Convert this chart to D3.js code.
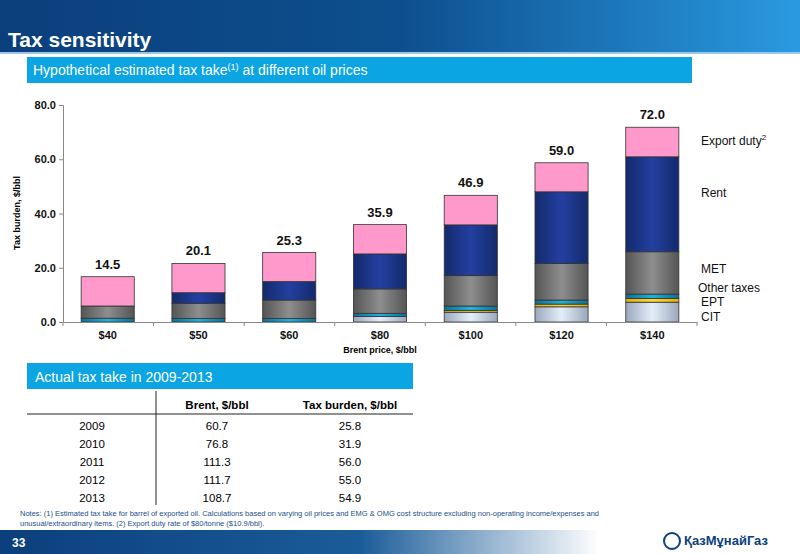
<!DOCTYPE html>
<html><head><meta charset="utf-8">
<script src="https://cdn.jsdelivr.net/npm/d3@7"></script>
<style>body{margin:0;background:#fff;font-family:"Liberation Sans",Arial,sans-serif}</style>
</head><body>
<svg id="c" width="800" height="554"></svg>
<script>
const prices = ["$40","$50","$60","$80","$100","$120","$140"];
const totals = [14.5, 20.1, 25.3, 35.9, 46.9, 59.0, 72.0];
const cit = [0, 0, 0, 2.0, 3.6, 5.6, 7.3];
const ept = [0, 0, 0, 0, 0.6, 1.0, 1.4];
const otherTaxes = [1.4, 1.3, 1.3, 1.2, 1.7, 1.5, 1.6];
const met = [4.5, 5.6, 6.8, 9.0, 11.2, 13.5, 15.6];
const rent = [0, 3.9, 6.8, 12.9, 18.7, 26.4, 35.0];
const exportDuty = [10.8, 10.8, 10.7, 10.8, 10.9, 10.7, 10.9];
const yTicks = [0, 20, 40, 60, 80];
const years = ["2009","2010","2011","2012","2013"];
const brentActual = ["60.7","76.8","111.3","111.7","108.7"];
const taxActual = ["25.8","31.9","56.0","55.0","54.9"];

const svg = d3.select("#c");
const defs = svg.append("defs");

// header band
const hg = defs.append("linearGradient").attr("id","hdr");
hg.append("stop").attr("offset","0").attr("stop-color","#0b3f7c");
hg.append("stop").attr("offset","0.5").attr("stop-color","#0d4f8e");
hg.append("stop").attr("offset","1").attr("stop-color","#2a9ae0");
svg.append("rect").attr("width",800).attr("height",52).attr("fill","url(#hdr)");
svg.append("rect").attr("y",52).attr("width",800).attr("height",2).attr("fill","#9cc6e8");
svg.append("text").attr("x",8).attr("y",47).attr("fill","#fff")
  .attr("font-size",21).attr("font-weight","bold").text("Tax sensitivity");

// footer band
const fg = defs.append("linearGradient").attr("id","ftr");
fg.append("stop").attr("offset","0").attr("stop-color","#0b3f7c");
fg.append("stop").attr("offset","0.45").attr("stop-color","#1a5c99");
fg.append("stop").attr("offset","0.75").attr("stop-color","#ffffff");
svg.append("rect").attr("y",530).attr("width",800).attr("height",24).attr("fill","url(#ftr)");
svg.append("text").attr("x",12).attr("y",547).attr("fill","#fff").attr("font-size",12).attr("font-weight","bold").text("33");
svg.append("circle").attr("cx",672).attr("cy",541).attr("r",8).attr("fill","none").attr("stroke","#0b3f7c").attr("stroke-width",2);
svg.append("text").attr("x",684).attr("y",545).attr("fill","#0b3f7c").attr("font-size",13).attr("font-weight","bold").text("ҚазМұнайГаз");

// section boxes
svg.append("rect").attr("x",27).attr("y",57).attr("width",665).attr("height",26).attr("fill","#0aa5e2");
const st = svg.append("text").attr("x",33).attr("y",75).attr("fill","#fff").attr("font-size",14);
st.append("tspan").text("Hypothetical estimated tax take");
st.append("tspan").attr("font-size",9).attr("dy",-5).text("(1)");
st.append("tspan").attr("dy",5).text(" at different oil prices");

svg.append("rect").attr("x",27).attr("y",363).attr("width",386).attr("height",26).attr("fill","#0aa5e2");
svg.append("text").attr("x",35).attr("y",382).attr("fill","#fff").attr("font-size",14).text("Actual tax take in 2009-2013");

// chart
const x = d3.scaleBand().domain(prices).range([63,697]).paddingInner(0.415).paddingOuter(0.2);
const y = d3.scaleLinear().domain([0,80]).range([322,105]);

const keys = ["cit","ept","other","met","rent","exp"];
const rows = prices.map((p,i)=>({p, cit:cit[i], ept:ept[i], other:otherTaxes[i], met:met[i], rent:rent[i], exp:exportDuty[i]}));
const stack = d3.stack().keys(keys)(rows);

function grad(id, c0, c1, c2){
  const g = defs.append("linearGradient").attr("id",id);
  g.append("stop").attr("offset","0").attr("stop-color",c0);
  g.append("stop").attr("offset","0.5").attr("stop-color",c1);
  g.append("stop").attr("offset","1").attr("stop-color",c2);
  return `url(#${id})`;
}
const fills = {
  cit: grad("gcit","#9aa8bc","#e4eefa","#9aa8bc"),
  ept: grad("gept","#e0b000","#ffd83a","#e0b000"),
  other: grad("goth","#0c6f92","#22b2dc","#0c6f92"),
  met: grad("gmet","#555","#8e8e8e","#555"),
  rent: grad("grent","#142a6c","#2340a0","#142a6c"),
  exp: "#ff99cc"
};

const g = svg.append("g");
g.selectAll("g.s").data(stack).join("g").attr("fill",d=>fills[d.key])
  .selectAll("rect").data(d=>d).join("rect")
  .attr("x",d=>x(d.data.p)).attr("width",x.bandwidth())
  .attr("y",d=>y(d[1])).attr("height",d=>Math.max(0,y(d[0])-y(d[1])))
  .attr("stroke",d=>d[1]-d[0]>0?"#333":"none").attr("stroke-width",0.8);

const tops = stack[stack.length-1];
g.selectAll("text.t").data(tops).join("text")
  .attr("x",d=>x(d.data.p)+x.bandwidth()/2).attr("y",(d)=>y(d[1])-8)
  .attr("text-anchor","middle").attr("font-size",13).attr("font-weight","bold").attr("fill","#111")
  .text((d,i)=>totals[i].toFixed(1));

const ya = svg.append("g").attr("transform","translate(63,0)")
  .call(d3.axisLeft(y).tickValues(yTicks).tickFormat(d3.format(".1f")).tickSize(4));
ya.selectAll("text").attr("font-size",11).attr("font-weight","bold").attr("fill","#111");
ya.selectAll("line,path").attr("stroke","#888");

const xa = svg.append("g").attr("transform","translate(0,322)")
  .call(d3.axisBottom(x).tickSize(0).tickPadding(9));
xa.selectAll("text").attr("font-size",11).attr("font-weight","bold").attr("fill","#111");
xa.select("path").attr("stroke","#888");
xa.selectAll("line.sep").data(d3.range(prices.length+1)).join("line").attr("class","sep")
  .attr("x1",i=>63+i*(634/7)).attr("x2",i=>63+i*(634/7)).attr("y1",0).attr("y2",4).attr("stroke","#888");

svg.append("text").attr("x",380).attr("y",353).attr("text-anchor","middle")
  .attr("font-size",9).attr("font-weight","bold").text("Brent price, $/bbl");
svg.append("text").attr("transform","translate(20,213) rotate(-90)").attr("text-anchor","middle")
  .attr("font-size",9).attr("font-weight","bold").text("Tax burden, $/bbl");

// legend labels
const leg = [["Export duty",145,true],["Rent",197],["MET",273],["Other taxes",292],["EPT",306],["CIT",321]];
leg.forEach(([t,ly,sup],i)=>{
  const tx = svg.append("text").attr("x",i==3?698:701).attr("y",ly).attr("font-size",12).attr("fill","#111").text(t);
  if(sup) tx.append("tspan").attr("font-size",8).attr("dy",-5).text("2");
});

// table
svg.append("line").attr("x1",27).attr("x2",413).attr("y1",414).attr("y2",414).attr("stroke","#222").attr("stroke-width",1);
svg.append("line").attr("x1",156).attr("x2",156).attr("y1",391).attr("y2",505).attr("stroke","#222").attr("stroke-width",1);
svg.append("text").attr("x",217).attr("y",409).attr("text-anchor","middle").attr("font-size",11.5).attr("font-weight","bold").text("Brent, $/bbl");
svg.append("text").attr("x",350).attr("y",409).attr("text-anchor","middle").attr("font-size",11.5).attr("font-weight","bold").text("Tax burden, $/bbl");
years.forEach((yr,i)=>{
  const ry = 430 + i*18;
  svg.append("text").attr("x",92).attr("y",ry).attr("text-anchor","middle").attr("font-size",11.5).text(yr);
  svg.append("text").attr("x",217).attr("y",ry).attr("text-anchor","middle").attr("font-size",11.5).text(brentActual[i]);
  svg.append("text").attr("x",350).attr("y",ry).attr("text-anchor","middle").attr("font-size",11.5).text(taxActual[i]);
});

svg.append("text").attr("x",20).attr("y",516).attr("font-size",7.5).attr("fill","#1a4f8a")
  .text("Notes: (1) Estimated tax take for barrel of exported oil. Calculations based on varying oil prices and EMG & OMG cost structure excluding non-operating income/expenses and");
svg.append("text").attr("x",20).attr("y",526).attr("font-size",7.5).attr("fill","#1a4f8a")
  .text("unusual/extraordinary items. (2) Export duty rate of $80/tonne ($10.9/bbl).");
</script>
</body></html>
